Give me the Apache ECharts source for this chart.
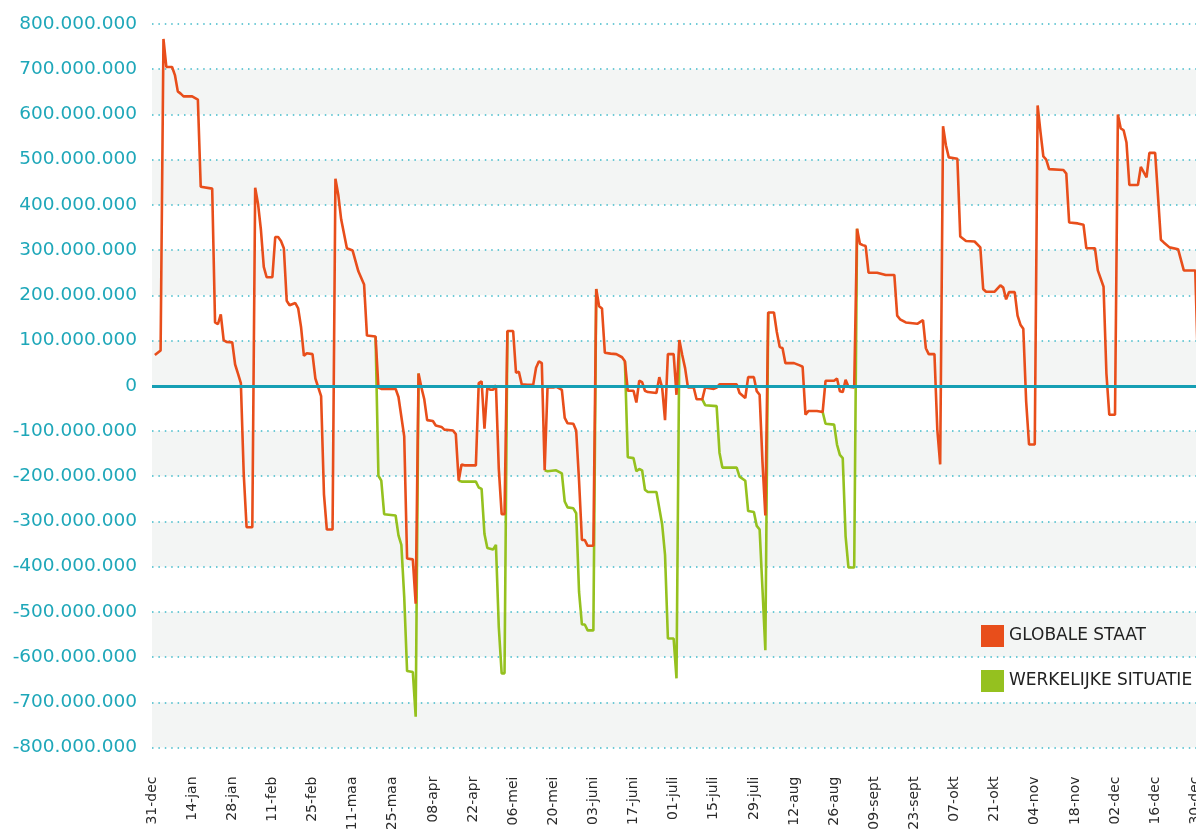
<!DOCTYPE html>
<html>
<head>
<meta charset="utf-8">
<script src="https://cdn.jsdelivr.net/npm/echarts@6/dist/echarts.min.js"></script>
<style>
  html, body { margin: 0; background: #fff; }
  #chart { width: 1196px; height: 829px; }
</style>
</head>
<body>
<div id="chart"></div>
<script>
// tick labels, one every 14 days starting at 31-dec (day 0)
var dagLabels = ['31-dec','14-jan','28-jan','11-feb','25-feb','11-maa','25-maa','08-apr','22-apr',
  '06-mei','20-mei','03-juni','17-juni','01-juli','15-juli','29-juli','12-aug','26-aug','09-sept',
  '23-sept','07-okt','21-okt','04-nov','18-nov','02-dec','16-dec','30-dec'];

// [dag, miljoen]
var globaleStaat = [
  [1,68],[3,78],[4,767],[5,705],[7,705],[8,687],[9,651],[10,646],[11,640],[14,640],[16,633],[17,440],
  [21,436],[22,140],[23,136],[24,158],[25,101],[26,97],[28,96],[29,47],[30,27],[31,6],[32,-194],[33,-313],
  [35,-313],[36,438],[37,402],[38,345],[39,263],[40,240],[42,240],[43,329],[44,329],[45,320],[46,304],
  [47,188],[48,178],[50,183],[51,171],[52,130],[53,66],[54,72],[56,70],[57,16],[59,-23],[60,-240],
  [61,-318],[63,-318],[64,458],[65,422],[66,368],[68,304],[70,299],[72,253],[74,224],[75,111],[78,109],
  [79,-4],[80,-7],[85,-7],[86,-25],[88,-112],[89,-382],[91,-384],[92,-482],[93,27],[94,-4],[95,-30],
  [96,-76],[98,-78],[99,-88],[101,-91],[102,-97],[105,-99],[106,-107],[107,-210],[108,-174],[109,-176],
  [113,-176],[114,6],[115,10],[116,-95],[117,-4],[118,-9],[119,-9],[120,1],[121,-184],[122,-284],
  [123,-284],[124,121],[126,121],[127,29],[128,31],[129,3],[131,2],[133,2],[134,40],[135,54],[136,50],
  [137,-187],[138,-4],[140,-4],[141,-2],[143,-9],[144,-71],[145,-83],[147,-84],[148,-99],[149,-210],
  [150,-341],[151,-341],[152,-354],[154,-354],[155,214],[156,176],[157,171],[158,73],[160,71],[162,70],
  [164,63],[165,54],[166,-11],[168,-11],[169,-37],[170,11],[171,8],[172,-11],[173,-14],[176,-16],
  [177,19],[178,-4],[179,-76],[180,70],[182,70],[183,-20],[184,101],[185,68],[186,39],[187,-4],[189,-4],
  [190,-30],[192,-30],[193,-4],[196,-7],[197,-4],[198,3],[204,3],[205,-16],[207,-27],[208,19],[210,19],
  [211,-12],[212,-20],[213,-169],[214,-287],[215,162],[217,162],[218,119],[219,86],[220,83],[221,50],
  [224,50],[226,45],[227,42],[228,-64],[229,-56],[232,-56],[234,-58],[235,11],[238,11],[239,16],
  [240,-12],[241,-14],[242,13],[243,-2],[245,-4],[246,347],[247,314],[248,311],[249,309],[250,250],
  [253,250],[256,245],[259,245],[260,155],[261,147],[263,140],[267,137],[269,145],[270,83],[271,70],
  [273,70],[274,-97],[275,-174],[276,574],[277,532],[278,505],[281,502],[282,330],[284,320],[287,319],
  [289,306],[290,214],[291,208],[294,208],[296,222],[297,217],[298,191],[299,207],[301,207],[302,155],
  [303,135],[304,126],[305,-35],[306,-130],[308,-130],[309,620],[310,561],[311,507],[312,500],[313,479],
  [318,477],[319,469],[320,361],[323,359],[325,356],[326,304],[329,304],[330,255],[332,219],[333,27],
  [334,-64],[336,-64],[337,600],[338,569],[339,565],[340,538],[341,444],[344,444],[345,484],[347,461],
  [348,515],[350,515],[352,323],[353,317],[355,306],[358,302],[360,255],[364,255],[365,30]
];

// only where it differs from the global state; null = break
var werkelijkeSituatie = [
  [78,109],[79,-199],[80,-210],[81,-284],[85,-287],[86,-331],[87,-352],[88,-467],[89,-631],[91,-633],
  [92,-732],[93,27], null,
  [107,-210],[108,-212],[113,-212],[114,-225],[115,-228],[116,-328],[117,-359],[119,-362],[120,-352],
  [121,-534],[122,-636],[123,-636],[124,121], null,
  [137,-187],[138,-189],[141,-187],[143,-194],[144,-256],[145,-269],[147,-271],[148,-282],[149,-456],
  [150,-528],[151,-528],[152,-541],[154,-541],[155,214], null,
  [165,54],[166,-158],[168,-160],[169,-189],[170,-184],[171,-187],[172,-230],[173,-235],[176,-235],
  [177,-271],[178,-307],[179,-374],[180,-559],[182,-559],[183,-647],[184,101], null,
  [192,-30],[193,-43],[197,-45],[198,-148],[199,-181],[204,-181],[205,-201],[207,-210],[208,-277],
  [210,-279],[211,-310],[212,-318],[213,-450],[214,-585],[215,162], null,
  [234,-58],[235,-84],[238,-86],[239,-130],[240,-153],[241,-160],[242,-333],[243,-402],[245,-402],[246,347]
];

function fmtNum(v) {
  if (v === 0) return '0';
  var s = String(Math.abs(v) * 1000000).replace(/\B(?=(\d{3})+(?!\d))/g, '.');
  return (v < 0 ? '-' : '') + s;
}

var greenData = [];
var prev = 0;
werkelijkeSituatie.forEach(function (p) {
  if (p === null) greenData.push([prev, '-']);
  else { greenData.push(p); prev = p[0]; }
});

var chart = echarts.init(document.getElementById('chart'));
chart.setOption({
  animation: false,
  backgroundColor: '#ffffff',
  textStyle: { fontFamily: 'DejaVu Sans' },
  grid: { left: 152, top: 24, width: 1049, height: 723.5, outerBoundsMode: 'none', containLabel: false },
  legend: {
    orient: 'vertical',
    left: 976,
    top: 620,
    itemWidth: 23,
    itemHeight: 22,
    itemGap: 23,
    icon: 'rect',
    data: ['GLOBALE STAAT', 'WERKELIJKE SITUATIE'],
    textStyle: { color: '#222222', fontSize: 17, fontFamily: 'DejaVu Sans' }
  },
  xAxis: {
    type: 'value',
    min: 0,
    max: 366,
    interval: 14,
    axisLine: { show: false },
    axisTick: { show: false },
    splitLine: { show: false },
    axisLabel: {
      rotate: 90,
      margin: 29,
      color: '#2b2b2b',
      fontSize: 14,
      formatter: function (v) { return v % 14 === 0 ? (dagLabels[v / 14] || '') : ''; }
    }
  },
  yAxis: {
    type: 'value',
    min: -800,
    max: 800,
    interval: 100,
    axisLine: { show: false },
    axisTick: { show: false },
    axisLabel: { color: '#1ea7b9', fontSize: 18.5, margin: 15, formatter: fmtNum },
    splitLine: { show: true, lineStyle: { color: '#3fb9c9', width: 1.5, type: [1.5, 4.9] } },
    splitArea: { show: true, areaStyle: { color: ['#f3f5f4', '#ffffff'] } }
  },
  series: [
    {
      name: 'WERKELIJKE SITUATIE',
      type: 'line',
      data: greenData,
      showSymbol: false,
      connectNulls: false,
      itemStyle: { color: '#95c11f' },
      lineStyle: { color: '#95c11f', width: 2.6 },
      z: 2,
      markLine: {
        silent: true,
        symbol: ['none', 'none'],
        label: { show: false },
        lineStyle: { color: '#169fb4', width: 3, type: 'solid' },
        data: [{ yAxis: 0 }]
      }
    },
    {
      name: 'GLOBALE STAAT',
      type: 'line',
      data: globaleStaat,
      showSymbol: false,
      itemStyle: { color: '#e84e1b' },
      lineStyle: { color: '#e84e1b', width: 2.6 },
      z: 3
    }
  ]
});
</script>
</body>
</html>
